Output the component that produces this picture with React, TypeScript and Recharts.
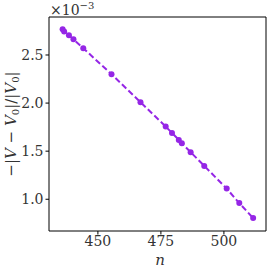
import React from "react";
import { LineChart, Line, XAxis, YAxis, ReferenceLine } from "recharts";

const nValues = [436, 436.6, 438.5, 440.3, 444.2, 455.4, 466.9, 476.9, 479.4, 482.1, 483.3, 486.8, 492.2, 501.1, 506.1, 511.6];
const ratioValues = [2.767, 2.744, 2.705, 2.663, 2.57, 2.3, 2.009, 1.756, 1.69, 1.617, 1.583, 1.489, 1.347, 1.111, 0.96, 0.804];
const xTicks = [450, 475, 500];
const yTicks = [1.0, 1.5, 2.0, 2.5];
const xDomain = [430.6, 516.7];
const yDomain = [0.67, 2.895];

const data = nValues.map((n, i) => ({ n, v: ratioValues[i] }));

const COLOR = "#9526e6";
const FONT = "DejaVu Serif";

export default function App() {
  return (
    <div style={{ position: "absolute", left: 0, top: 0, width: 272, height: 272, background: "#fff", fontFamily: FONT }}>
      <LineChart
        width={272}
        height={272}
        data={data}
        margin={{ top: 17, right: 6, bottom: 1, left: 9 }}
        style={{ fontFamily: FONT }}
      >
        <XAxis
          dataKey="n"
          type="number"
          domain={xDomain}
          ticks={xTicks}
          allowDataOverflow
          height={40}
          stroke="#000"
          tickSize={3.5}
          tick={{ fill: "#333", fontSize: 14, fontFamily: FONT }}
          tickFormatter={(v: number) => String(v)}
        />
        <YAxis
          type="number"
          domain={yDomain}
          ticks={yTicks}
          allowDataOverflow
          width={40}
          stroke="#000"
          tickSize={3.5}
          tick={{ fill: "#333", fontSize: 14, fontFamily: FONT }}
          tickFormatter={(v: number) => v.toFixed(1)}
        />
        <ReferenceLine x={xDomain[1]} stroke="#000" strokeWidth={1} ifOverflow="extendDomain" />
        <ReferenceLine y={yDomain[1]} stroke="#000" strokeWidth={1} ifOverflow="extendDomain" />
        <Line
          dataKey="v"
          stroke={COLOR}
          strokeWidth={2}
          strokeDasharray="6 3"
          dot={{ r: 3, fill: COLOR, stroke: COLOR, strokeWidth: 0 }}
          isAnimationActive={false}
        />
      </LineChart>
      <svg width={272} height={272} style={{ position: "absolute", left: 0, top: 0, pointerEvents: "none" }}>
        <text x={50} y={15} fontFamily={FONT} fontSize={14} fill="#333">
          ×10<tspan dy={-6} fontSize={10}>−3</tspan>
        </text>
        <text x={160} y={265} fontFamily={FONT} fontSize={15} fontStyle="italic" fill="#333" textAnchor="middle">n</text>
        <text
          x={0}
          y={0}
          transform="translate(16,124) rotate(-90)"
          fontFamily={FONT}
          fontSize={15}
          fill="#333"
          textAnchor="middle"
        >
          −|<tspan fontStyle="italic">V</tspan> − <tspan fontStyle="italic">V</tspan><tspan fontSize={10} dy={3}>0</tspan><tspan dy={-3}>|/|</tspan><tspan fontStyle="italic">V</tspan><tspan fontSize={10} dy={3}>0</tspan><tspan dy={-3}>|</tspan>
        </text>
      </svg>
    </div>
  );
}
